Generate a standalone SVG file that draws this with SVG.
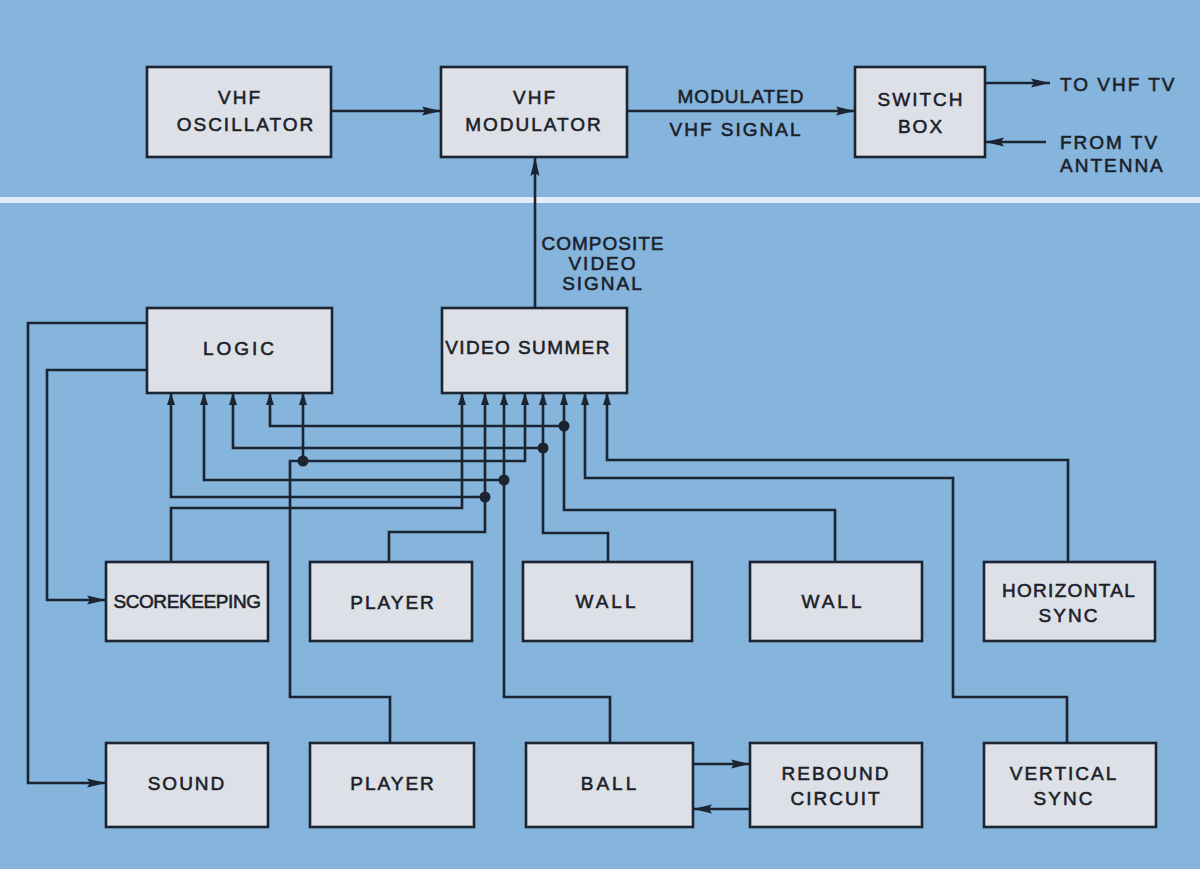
<svg xmlns="http://www.w3.org/2000/svg" width="1200" height="869" viewBox="0 0 1200 869">
<defs>
<style>
.box{fill:#dde0e6;stroke:#1b2430;stroke-width:2.6}
.t{font-family:"Liberation Sans",Arial,sans-serif;font-size:19px;fill:#1b2029;stroke:#1b2029;stroke-width:0.55;letter-spacing:2px;text-anchor:middle}
.st{text-anchor:start}
.ln{fill:none;stroke:#1b2430;stroke-width:2.6}
.big{marker-end:url(#ah)}
.sm{marker-end:url(#as)}
.dot{fill:#1b2430}
</style>
<marker id="ah" markerUnits="userSpaceOnUse" markerWidth="20" markerHeight="10" refX="19" refY="5" orient="auto"><path d="M0,0.5 L19,5 L0,9.5 L3,5 z" fill="#1b2430"/></marker>
<marker id="as" markerUnits="userSpaceOnUse" markerWidth="13" markerHeight="9" refX="12" refY="4.5" orient="auto"><path d="M0,0.5 L12,4.5 L0,8.5 z" fill="#1b2430"/></marker>
</defs>
<rect x="0" y="0" width="1200" height="869" fill="#85b4dd"/>
<rect x="0" y="197" width="1200" height="6" fill="#e3edf7"/>

<g id="connectors">
<path class="ln big" d="M331,111 H441"/>
<path class="ln big" d="M627,111 H855"/>
<path class="ln big" d="M985,83 H1050"/>
<path class="ln big" d="M1046,142 H985"/>
<path class="ln big" d="M535,308 V157"/>
<path class="ln big" d="M147,323 H28 V783 H106"/>
<path class="ln big" d="M147,370 H47 V600 H106"/>
<path class="ln sm" d="M171,562 V508 H462 V393"/>
<path class="ln sm" d="M389,562 V532 H485 V393"/>
<path class="ln sm" d="M485,497 H171 V393"/>
<path class="ln sm" d="M390,743 V697 H290 V461 H525 V393"/>
<path class="ln sm" d="M303,461 V393"/>
<path class="ln sm" d="M610,743 V697 H504 V393"/>
<path class="ln sm" d="M504,480 H204 V393"/>
<path class="ln sm" d="M608,562 V533 H543 V393"/>
<path class="ln sm" d="M543,448 H233 V393"/>
<path class="ln sm" d="M835,562 V510 H564 V393"/>
<path class="ln sm" d="M564,426 H270 V393"/>
<path class="ln sm" d="M1068,562 V460 H607 V393"/>
<path class="ln sm" d="M1067,743 V697 H953 V478 H585 V393"/>
<path class="ln big" d="M693,764 H750"/>
<path class="ln big" d="M750,809 H693"/>
<circle class="dot" cx="303" cy="461" r="5.5"/>
<circle class="dot" cx="485" cy="497" r="5.5"/>
<circle class="dot" cx="504" cy="480" r="5.5"/>
<circle class="dot" cx="543" cy="448" r="5.5"/>
<circle class="dot" cx="564" cy="426" r="5.5"/>
</g>

<g id="labels">
<text class="t" x="741" y="103" style="letter-spacing:1px">MODULATED</text>
<text class="t" x="736" y="136">VHF SIGNAL</text>
<text class="t st" x="1060" y="91">TO VHF TV</text>
<text class="t st" x="1060" y="149">FROM TV</text>
<text class="t st" x="1060" y="172">ANTENNA</text>
<text class="t" x="603" y="250" style="letter-spacing:1px">COMPOSITE</text>
<text class="t" x="603" y="270">VIDEO</text>
<text class="t" x="603" y="290">SIGNAL</text>
</g>

<g id="vhf-oscillator"><rect class="box" x="147" y="67" width="184" height="90"/><text class="t" x="240" y="104">VHF</text><text class="t" x="246" y="131">OSCILLATOR</text></g>
<g id="vhf-modulator"><rect class="box" x="441" y="67" width="186" height="90"/><text class="t" x="535" y="104">VHF</text><text class="t" x="534" y="131">MODULATOR</text></g>
<g id="switch-box"><rect class="box" x="855" y="67" width="130" height="90"/><text class="t" x="921" y="106">SWITCH</text><text class="t" x="921" y="133">BOX</text></g>
<g id="logic"><rect class="box" x="147" y="308" width="185" height="85"/><text class="t" x="240" y="355" style="letter-spacing:3px">LOGIC</text></g>
<g id="video-summer"><rect class="box" x="442" y="308" width="185" height="85"/><text class="t" x="528" y="354" style="letter-spacing:1.4px">VIDEO SUMMER</text></g>
<g id="scorekeeping"><rect class="box" x="106" y="562" width="162" height="79"/><text class="t" x="187" y="608" style="letter-spacing:-0.4px">SCOREKEEPING</text></g>
<g id="player-1"><rect class="box" x="310" y="562" width="162" height="79"/><text class="t" x="393" y="609">PLAYER</text></g>
<g id="wall-1"><rect class="box" x="523" y="562" width="169" height="79"/><text class="t" x="607" y="608" style="letter-spacing:3px">WALL</text></g>
<g id="wall-2"><rect class="box" x="750" y="562" width="172" height="79"/><text class="t" x="833" y="608" style="letter-spacing:3px">WALL</text></g>
<g id="horizontal-sync"><rect class="box" x="984" y="562" width="171" height="79"/><text class="t" x="1069" y="597" style="letter-spacing:1.3px">HORIZONTAL</text><text class="t" x="1069" y="622">SYNC</text></g>
<g id="sound"><rect class="box" x="106" y="743" width="162" height="84"/><text class="t" x="187" y="790">SOUND</text></g>
<g id="player-2"><rect class="box" x="310" y="743" width="164" height="84"/><text class="t" x="393" y="790">PLAYER</text></g>
<g id="ball"><rect class="box" x="526" y="743" width="167" height="84"/><text class="t" x="610" y="790" style="letter-spacing:3px">BALL</text></g>
<g id="rebound-circuit"><rect class="box" x="750" y="743" width="172" height="84"/><text class="t" x="836" y="780">REBOUND</text><text class="t" x="836" y="805">CIRCUIT</text></g>
<g id="vertical-sync"><rect class="box" x="984" y="743" width="172" height="84"/><text class="t" x="1064" y="780">VERTICAL</text><text class="t" x="1064" y="805">SYNC</text></g>
</svg>
